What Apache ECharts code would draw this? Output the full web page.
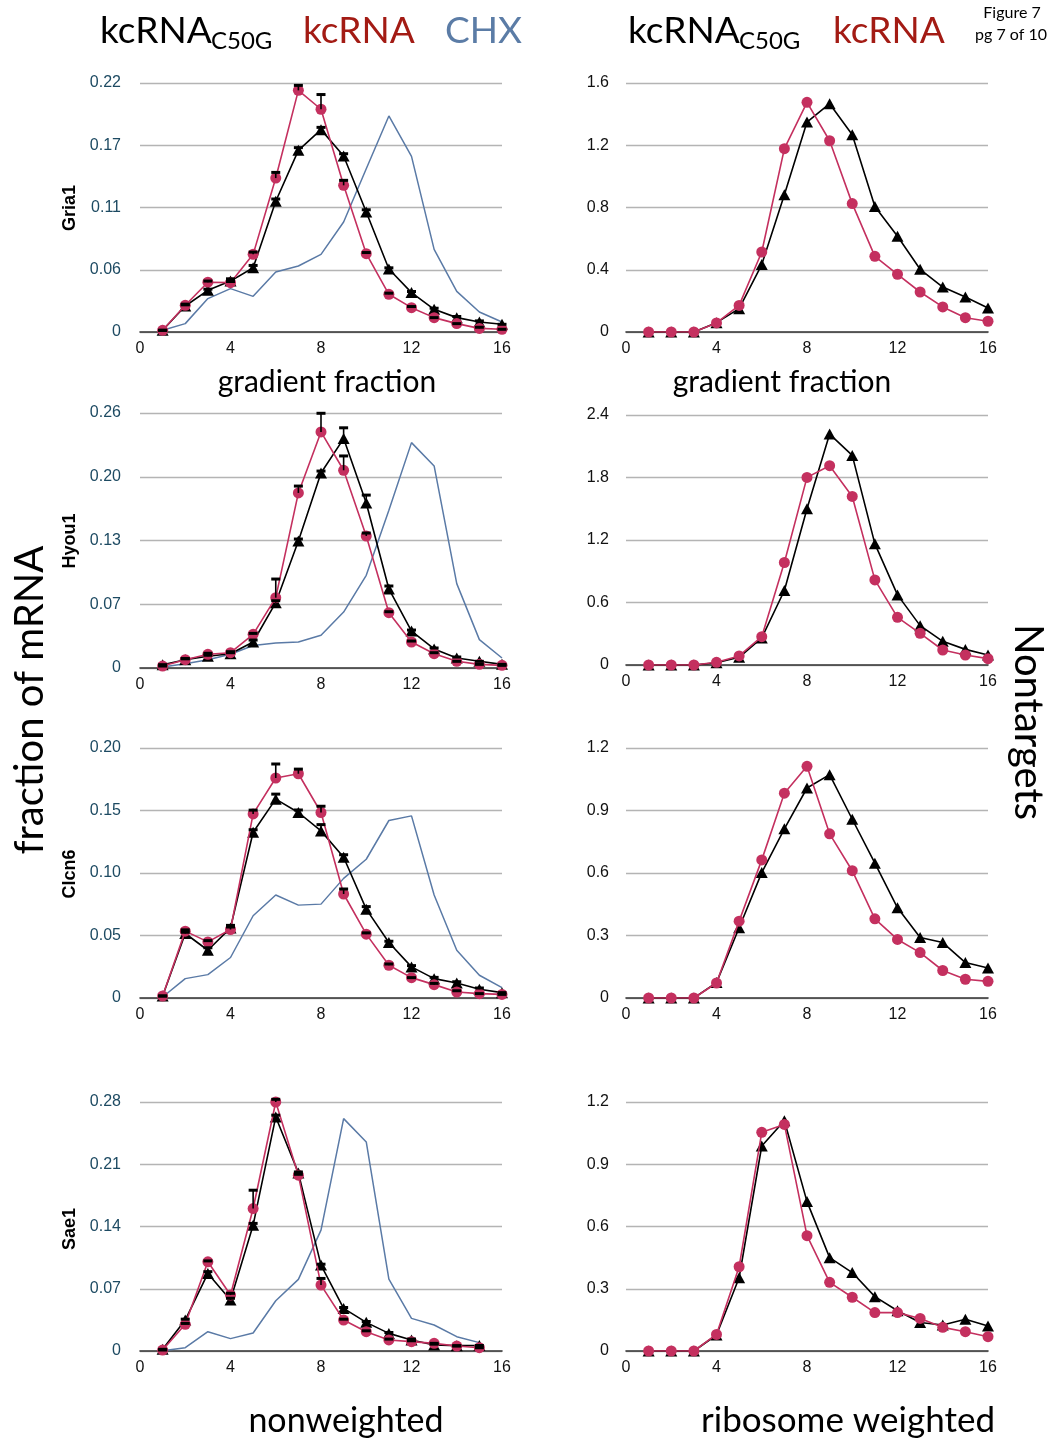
<!DOCTYPE html>
<html>
<head>
<meta charset="utf-8">
<script src="https://cdn.jsdelivr.net/npm/echarts@6/dist/echarts.min.js"></script>
<style>
  html, body { margin: 0; padding: 0; background: #fff; }
  #chart { width: 1053px; height: 1445px; }
</style>
</head>
<body>
<div id="chart"></div>
<script>
// gradient fraction numbers (x values)
const fractions = [1, 2, 3, 4, 5, 6, 7, 8, 9, 10, 11, 12, 13, 14, 15, 16];

// ---- Gria1 ----
const gria1Mut = [0.0015, 0.023, 0.0368, 0.045, 0.0568, 0.1155, 0.1605, 0.1788, 0.1555, 0.106, 0.0557, 0.0348, 0.020, 0.0127, 0.0088, 0.0068];
const gria1MutErr = [0, 0.001, 0.001, 0.002, 0.002, 0.002, 0.0024, 0.002, 0.002, 0.002, 0.001, 0.001, 0.001, 0.001, 0.001, 0];
const gria1Kc = [0.0015, 0.0236, 0.044, 0.0436, 0.0686, 0.136, 0.2135, 0.1968, 0.1296, 0.0692, 0.0333, 0.0215, 0.0127, 0.0074, 0.0032, 0.0024];
const gria1KcErr = [0, 0.001, 0.001, 0.001, 0.002, 0.005, 0.0044, 0.013, 0.0044, 0.001, 0.001, 0.001, 0, 0, 0.001, 0];
const gria1Chx = [0.0015, 0.0074, 0.0295, 0.0383, 0.0315, 0.053, 0.0583, 0.0686, 0.0972, 0.1443, 0.1909, 0.1552, 0.073, 0.0359, 0.0177, 0.0088];
const gria1MutRibo = [0, 0, 0, 0.06, 0.15, 0.433, 0.882, 1.349, 1.467, 1.268, 0.807, 0.615, 0.403, 0.289, 0.225, 0.154];
const gria1KcRibo = [0, 0, 0, 0.058, 0.171, 0.514, 1.178, 1.476, 1.229, 0.825, 0.486, 0.371, 0.257, 0.161, 0.092, 0.069];

// ---- Hyou1 ----
const hyou1Mut = [0.0034, 0.0085, 0.012, 0.0146, 0.0265, 0.0666, 0.1295, 0.1988, 0.2339, 0.1683, 0.0806, 0.0377, 0.0194, 0.0102, 0.0068, 0.0037];
const hyou1MutErr = [0, 0.001, 0.001, 0.001, 0.002, 0.002, 0.002, 0.002, 0.011, 0.008, 0.003, 0.001, 0.001, 0.001, 0, 0];
const hyou1Kc = [0.002, 0.0085, 0.014, 0.0156, 0.0343, 0.0717, 0.1785, 0.2407, 0.2016, 0.1346, 0.0564, 0.0265, 0.0146, 0.0068, 0.0037, 0.0027];
const hyou1KcErr = [0, 0.001, 0.001, 0.001, 0.001, 0.019, 0.007, 0.019, 0.0146, 0.003, 0.001, 0.001, 0.001, 0, 0, 0];
const hyou1Chx = [0.001, 0.0044, 0.0085, 0.014, 0.023, 0.0255, 0.0265, 0.0333, 0.057, 0.0945, 0.1608, 0.2298, 0.206, 0.086, 0.0289, 0.0102];
const hyou1MutRibo = [0, 0, 0, 0.022, 0.074, 0.26, 0.715, 1.5, 2.217, 2.012, 1.163, 0.673, 0.378, 0.227, 0.15, 0.096];
const hyou1KcRibo = [0, 0, 0, 0.026, 0.087, 0.272, 0.984, 1.801, 1.913, 1.618, 0.817, 0.458, 0.304, 0.144, 0.096, 0.061];

// ---- Clcn6 ----
const clcn6Mut = [0.0016, 0.0516, 0.0382, 0.0561, 0.1326, 0.1591, 0.1484, 0.1337, 0.1126, 0.0711, 0.0444, 0.0249, 0.0155, 0.012, 0.007, 0.0043];
const clcn6MutErr = [0, 0.001, 0.002, 0.002, 0.002, 0.004, 0.002, 0.005, 0.002, 0.002, 0.001, 0.001, 0.001, 0.001, 0.001, 0];
const clcn6Kc = [0.0016, 0.0535, 0.0449, 0.0548, 0.1473, 0.176, 0.1794, 0.1484, 0.0832, 0.0511, 0.0262, 0.0163, 0.0107, 0.0048, 0.0035, 0.0029];
const clcn6KcErr = [0, 0.001, 0.001, 0.002, 0.003, 0.0112, 0.0037, 0.005, 0.004, 0.001, 0.001, 0, 0.001, 0.001, 0, 0];
const clcn6Chx = [0.0008, 0.0155, 0.0187, 0.0324, 0.0658, 0.0824, 0.0743, 0.0751, 0.0957, 0.111, 0.142, 0.1457, 0.0824, 0.0382, 0.0182, 0.0083];
const clcn6MutRibo = [0, 0, 0, 0.074, 0.337, 0.602, 0.812, 1.008, 1.072, 0.858, 0.647, 0.433, 0.29, 0.266, 0.17, 0.144];
const clcn6KcRibo = [0, 0, 0, 0.072, 0.369, 0.663, 0.983, 1.112, 0.788, 0.611, 0.38, 0.281, 0.218, 0.132, 0.09, 0.08];

// ---- Sae1 (fraction 16 not measured in the nonweighted set) ----
const sae1Mut = [0.0019, 0.0348, 0.0872, 0.0573, 0.1415, 0.2632, 0.2003, 0.0966, 0.0479, 0.0322, 0.0198, 0.0124, 0.0067, 0.006, 0.0062];
const sae1MutErr = [0, 0.001, 0.002, 0.002, 0.002, 0.002, 0.001, 0.001, 0.001, 0.001, 0.001, 0.001, 0.001, 0, 0];
const sae1Kc = [0.0011, 0.03, 0.1003, 0.0629, 0.1602, 0.28, 0.1977, 0.0741, 0.0348, 0.0217, 0.0124, 0.0105, 0.0086, 0.0056, 0.0037];
const sae1KcErr = [0, 0.001, 0.001, 0.002, 0.0206, 0.003, 0.001, 0.0075, 0.001, 0.001, 0.001, 0.001, 0, 0, 0];
const sae1Chx = [0.0004, 0.0037, 0.0217, 0.0139, 0.0202, 0.0565, 0.0805, 0.1359, 0.2613, 0.2351, 0.0809, 0.0367, 0.0292, 0.0161, 0.0094];
const sae1MutRibo = [0, 0, 0, 0.077, 0.353, 0.988, 1.11, 0.72, 0.45, 0.378, 0.262, 0.194, 0.137, 0.125, 0.153, 0.12];
const sae1KcRibo = [0, 0, 0, 0.08, 0.406, 1.054, 1.092, 0.556, 0.331, 0.259, 0.185, 0.185, 0.157, 0.114, 0.093, 0.069];

// ---- axis tick labels ----
const xTicks = ['0', '4', '8', '12', '16'];
const gria1Ticks = ['0', '0.06', '0.11', '0.17', '0.22'];
const hyou1Ticks = ['0', '0.07', '0.13', '0.20', '0.26'];
const clcn6Ticks = ['0', '0.05', '0.10', '0.15', '0.20'];
const sae1Ticks = ['0', '0.07', '0.14', '0.21', '0.28'];
const gria1RiboTicks = ['0', '0.4', '0.8', '1.2', '1.6'];
const hyou1RiboTicks = ['0', '0.6', '1.2', '1.8', '2.4'];
const clcn6RiboTicks = ['0', '0.3', '0.6', '0.9', '1.2'];
const sae1RiboTicks = ['0', '0.3', '0.6', '0.9', '1.2'];

const geneNames = ['Gria1', 'Hyou1', 'Clcn6', 'Sae1'];

// ---- style ----
const BLACK = '#000000';
const RED = '#c4305f';
const BLUE = '#5a7aa6';
const TICK_FONT = '"Liberation Sans", Arial, sans-serif';
const TITLE_FONT = 'Lato, "Open Sans", sans-serif';

const leftCol = { left: 140, width: 362 };
const rightCol = { left: 626, width: 362 };
const leftRows = [[83, 249], [413, 255], [748, 250], [1102, 249]];
const rightRows = [[83, 249], [415, 250], [748, 250], [1102, 249]];

const panels = [
  { col: 'L', row: 0, ymax: 0.22, ticks: gria1Ticks, mut: gria1Mut, mutErr: gria1MutErr, kc: gria1Kc, kcErr: gria1KcErr, chx: gria1Chx },
  { col: 'R', row: 0, ymax: 1.6, ticks: gria1RiboTicks, mut: gria1MutRibo, kc: gria1KcRibo },
  { col: 'L', row: 1, ymax: 0.26, ticks: hyou1Ticks, mut: hyou1Mut, mutErr: hyou1MutErr, kc: hyou1Kc, kcErr: hyou1KcErr, chx: hyou1Chx },
  { col: 'R', row: 1, ymax: 2.4, ticks: hyou1RiboTicks, mut: hyou1MutRibo, kc: hyou1KcRibo },
  { col: 'L', row: 2, ymax: 0.20, ticks: clcn6Ticks, mut: clcn6Mut, mutErr: clcn6MutErr, kc: clcn6Kc, kcErr: clcn6KcErr, chx: clcn6Chx },
  { col: 'R', row: 2, ymax: 1.2, ticks: clcn6RiboTicks, mut: clcn6MutRibo, kc: clcn6KcRibo },
  { col: 'L', row: 3, ymax: 0.28, ticks: sae1Ticks, mut: sae1Mut, mutErr: sae1MutErr, kc: sae1Kc, kcErr: sae1KcErr, chx: sae1Chx },
  { col: 'R', row: 3, ymax: 1.2, ticks: sae1RiboTicks, mut: sae1MutRibo, kc: sae1KcRibo }
];

const pairs = (ys) => ys.map((y, i) => [fractions[i], y]);

// upward-only error bar: stem from the mean to mean+err, capped at the top
function errorBarItem(params, api) {
  const x = api.value(0);
  const lo = api.coord([x, api.value(1)]);
  const hi = api.coord([x, api.value(2)]);
  const capW = 9;
  return {
    type: 'group',
    children: [
      { type: 'line', shape: { x1: lo[0], y1: lo[1], x2: hi[0], y2: hi[1] }, style: { stroke: '#000', lineWidth: 1.6 } },
      { type: 'rect', shape: { x: hi[0] - capW / 2, y: hi[1] - 1.5, width: capW, height: 3 }, style: { fill: '#000' } }
    ]
  };
}

const grids = [], xAxes = [], yAxes = [], series = [];

panels.forEach((p, i) => {
  const col = p.col === 'L' ? leftCol : rightCol;
  const rows = p.col === 'L' ? leftRows : rightRows;
  const [top, height] = rows[p.row];
  grids.push({ left: col.left, width: col.width, top: top, height: height });
  xAxes.push({
    type: 'value', gridIndex: i, min: 0, max: 16, interval: 4,
    axisLine: { show: true, onZero: false, lineStyle: { color: '#333', width: 1.6 } },
    axisTick: { show: false },
    splitLine: { show: false },
    axisLabel: {
      margin: 9, fontSize: 16, color: '#111', fontFamily: TICK_FONT,
      formatter: (v) => xTicks[Math.round(v / 4)]
    }
  });
  const step = p.ymax / 4;
  yAxes.push({
    type: 'value', gridIndex: i, min: 0, max: p.ymax, interval: step,
    axisLine: { show: false },
    axisTick: { show: false },
    splitLine: { show: true, lineStyle: { color: '#b4b4b4', width: 1.4 } },
    axisLabel: {
      margin: p.col === 'L' ? 19 : 17, fontSize: 16, fontFamily: TICK_FONT,
      color: p.col === 'L' ? '#1d4a62' : '#111',
      formatter: (v) => p.ticks[Math.round(v / step)]
    }
  });

  if (p.chx) {
    series.push({
      name: 'CHX', type: 'line', xAxisIndex: i, yAxisIndex: i, data: pairs(p.chx),
      showSymbol: false, symbol: 'none', lineStyle: { color: BLUE, width: 1.5 }, z: 2, silent: true
    });
  }
  series.push({
    name: 'kcRNA C50G', type: 'line', xAxisIndex: i, yAxisIndex: i, data: pairs(p.mut),
    symbol: 'triangle', symbolSize: [12, 11], itemStyle: { color: BLACK },
    lineStyle: { color: BLACK, width: 1.6 }, z: 3, silent: true
  });
  series.push({
    name: 'kcRNA', type: 'line', xAxisIndex: i, yAxisIndex: i, data: pairs(p.kc),
    symbol: 'circle', symbolSize: 11, itemStyle: { color: RED },
    lineStyle: { color: RED, width: 1.6 }, z: 4, silent: true
  });
  if (p.mutErr) {
    [[p.mut, p.mutErr], [p.kc, p.kcErr]].forEach(([vals, errs]) => {
      series.push({
        type: 'custom', xAxisIndex: i, yAxisIndex: i, clip: false, z: 6, silent: true,
        renderItem: errorBarItem,
        encode: { x: 0, y: [1, 2] },
        data: vals.map((v, k) => [fractions[k], v, v + errs[k]])
      });
    });
  }
});

// free-standing text: headers, panel labels and axis captions
const txt = (x, y, text, size, opts = {}) => ({
  type: 'text', x: x, y: y, rotation: opts.rotation || 0, silent: true,
  style: {
    text: text, fill: opts.color || '#000', fontSize: size,
    fontFamily: opts.family || TITLE_FONT, fontWeight: opts.weight || 'normal',
    align: opts.align || 'center', verticalAlign: opts.valign || 'middle'
  }
});

const HEAD_RED = '#a31b14';
const HEAD_BLUE = '#5b7ca6';
const graphics = [];
// header row: series names with a subscripted mutant tag
graphics.push(txt(100, 50, 'kcRNA', 37, { align: 'left', valign: 'bottom' }));
graphics.push(txt(211, 53, 'C50G', 24, { align: 'left', valign: 'bottom' }));
graphics.push(txt(303, 50, 'kcRNA', 37, { align: 'left', valign: 'bottom', color: HEAD_RED }));
graphics.push(txt(445, 50, 'CHX', 37, { align: 'left', valign: 'bottom', color: HEAD_BLUE }));
graphics.push(txt(628, 50, 'kcRNA', 37, { align: 'left', valign: 'bottom' }));
graphics.push(txt(739, 53, 'C50G', 24, { align: 'left', valign: 'bottom' }));
graphics.push(txt(833, 50, 'kcRNA', 37, { align: 'left', valign: 'bottom', color: HEAD_RED }));
graphics.push(txt(1012, 13, 'Figure 7', 16));
graphics.push(txt(1011, 35, 'pg 7 of 10', 16));
// gene names along the left panels
const geneY = [208, 541, 874, 1229];
geneNames.forEach((g, k) => graphics.push(txt(70, geneY[k], g, 18, { rotation: Math.PI / 2, weight: 'bold', family: TICK_FONT })));
// captions
graphics.push(txt(30, 700, 'fraction of mRNA', 40, { rotation: Math.PI / 2 }));
graphics.push(txt(1028, 722, 'Nontargets', 40, { rotation: -Math.PI / 2 }));
graphics.push(txt(327, 382, 'gradient fraction', 30));
graphics.push(txt(782, 382, 'gradient fraction', 30));
graphics.push(txt(346, 1421, 'nonweighted', 34));
graphics.push(txt(848, 1421, 'ribosome weighted', 35));

const chart = echarts.init(document.getElementById('chart'), null, { renderer: 'canvas' });
chart.setOption({
  backgroundColor: '#ffffff',
  animation: false,
  grid: grids,
  xAxis: xAxes,
  yAxis: yAxes,
  series: series,
  graphic: graphics
});
</script>
</body>
</html>
